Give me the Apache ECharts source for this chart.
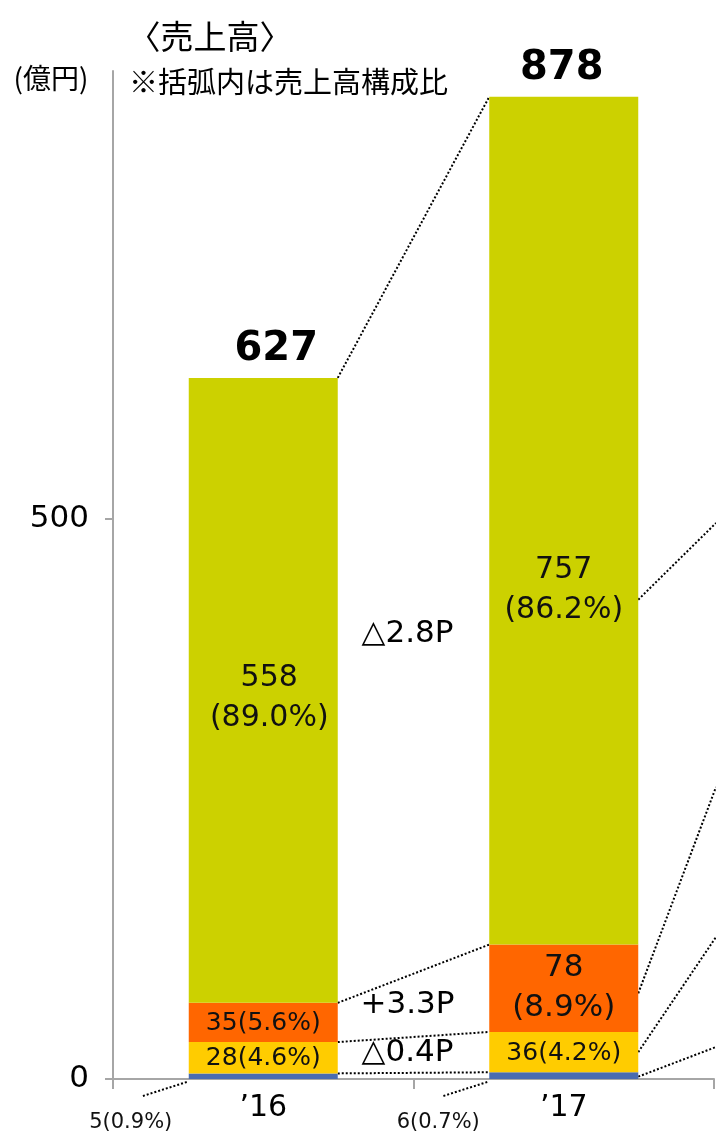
<!DOCTYPE html>
<html>
<head>
<meta charset="utf-8">
<script src="https://cdn.jsdelivr.net/npm/echarts@6/dist/echarts.min.js"></script>
<style>
  html, body { margin: 0; padding: 0; background: #fff; }
  #main { width: 716px; height: 1138px; }
</style>
</head>
<body>
<div id="main"></div>
<script>
const years = ['’16', '’17']
const other = [5, 6]
const otherShare = ['0.9%', '0.7%']
const yellow = [28, 36]
const yellowShare = ['4.6%', '4.2%']
const orange = [35, 78]
const orangeShare = ['5.6%', '8.9%']
const green = [558, 757]
const greenShare = ['89.0%', '86.2%']
const totals = [627, 878]
const deltas = ['△2.8P', '+3.3P', '△0.4P']
const yTicks = [0, 500]

const FONT = '"DejaVu Sans", "Noto Sans CJK JP", sans-serif'
const JFONT = '"Noto Sans CJK JP", sans-serif'
const BAR_W = 149
const dotted = { stroke: '#000', lineWidth: 2, lineDash: [2, 2] }

const chart = echarts.init(document.getElementById('main'))

function seg(name, data, color, labelFn) {
  return {
    name,
    type: 'bar',
    stack: 'sales',
    barWidth: BAR_W,
    itemStyle: { color },
    emphasis: { disabled: true },
    label: {
      show: !!labelFn,
      position: 'inside',
      color: '#111',
      fontFamily: FONT,
      formatter: p => labelFn ? labelFn(p.dataIndex) : ''
    },
    data: data.slice()
  }
}

const series = [
  seg('other', other, '#4A6CB0', null),
  seg('yellow', yellow, '#FFCC00', i => yellow[i] + '(' + yellowShare[i] + ')'),
  seg('orange', orange, '#FF6600', i => i === 1 ? orange[i] + '\n(' + orangeShare[i] + ')' : orange[i] + '(' + orangeShare[i] + ')'),
  seg('green', green, '#CCD100', i => green[i] + '\n(' + greenShare[i] + ')'),
  {
    name: 'total',
    type: 'bar',
    stack: 'sales',
    barWidth: BAR_W,
    itemStyle: { color: 'transparent' },
    label: {
      show: true,
      position: 'top',
      distance: 8,
      color: '#000',
      fontFamily: FONT,
      fontSize: 40,
      fontWeight: 'bold',
      formatter: p => String(totals[p.dataIndex])
    },
    data: totals.map((v, i) => ({ value: 0, label: { offset: [i === 0 ? 13 : -2, 0] } }))
  }
]

// per-segment label sizes / offsets
series[1].label.fontSize = 25
series[1].label.offset = [0, 1]
series[2].data = orange.map((v, i) => ({
  value: v,
  label: i === 1 ? { fontSize: 31, lineHeight: 40 } : { fontSize: 25, offset: [0, 1] }
}))
series[3].data = green.map((v, i) => ({
  value: v,
  label: { fontSize: 30, lineHeight: 40, offset: i === 1 ? [0, 70] : [6, 8] }
}))

const option = {
  animation: false,
  grid: { left: 113, right: 2, top: 71, bottom: 59 },
  xAxis: {
    type: 'category',
    data: years,
    axisLine: { lineStyle: { color: '#A6A6A6', width: 2 } },
    axisTick: { show: true, length: 10, lineStyle: { color: '#A6A6A6', width: 2 } },
    axisLabel: { color: '#000', fontFamily: FONT, fontSize: 30, margin: 14 }
  },
  yAxis: {
    type: 'value',
    min: 0,
    max: 900,
    interval: 500,
    splitLine: { show: false },
    axisLine: { show: true, lineStyle: { color: '#A6A6A6', width: 2 } },
    axisTick: { show: true, length: 8, customValues: yTicks, lineStyle: { color: '#A6A6A6', width: 2 } },
    axisLabel: { customValues: yTicks, color: '#000', fontFamily: FONT, fontSize: 31, margin: 24 }
  },
  series
}
chart.setOption(option)

// build connector lines and annotations from the data positions
const px = (i, v) => chart.convertToPixel({ gridIndex: 0 }, [i, v])
const stacks = [other, yellow, orange, green]
const cum = [0, 1].map(i => {
  let s = 0
  return stacks.map(arr => (s += arr[i]))
})
const g = []
const half = BAR_W / 2

// segment-top connectors between the two bars
for (let k = 0; k < stacks.length; k++) {
  const a = px(0, cum[0][k])
  const b = px(1, cum[1][k])
  g.push({ type: 'line', shape: { x1: a[0] + half, y1: a[1], x2: b[0] - half, y2: b[1] }, style: dotted, silent: true })
}

// leaders off to the right panel from the '17 bar
const rightEnds = [1047, 937, 787, 523]
const rightStartShift = [1, 0, 5, 79]
for (let k = 0; k < stacks.length; k++) {
  const lo = k === 0 ? 0 : cum[1][k - 1]
  const c = px(1, (lo + cum[1][k]) / 2)
  g.push({ type: 'line', shape: { x1: c[0] + half, y1: c[1] + rightStartShift[k], x2: 716, y2: rightEnds[k] }, style: dotted, silent: true })
}

// small "other" segment: leader + outside label
for (let i = 0; i < 2; i++) {
  const p = px(i, 0)
  const x0 = p[0] - half
  const ex = x0 - 46
  const ey = p[1] + 17
  g.push({ type: 'line', shape: { x1: x0 - 2, y1: p[1] + 3, x2: ex, y2: ey }, style: dotted, silent: true })
  g.push({
    type: 'text', x: ex - 12 + i * 7, y: ey + 27,
    style: { text: other[i] + '(' + otherShare[i] + ')', font: '21px ' + FONT, fill: '#111', align: 'center', verticalAlign: 'middle' }
  })
}

// composition change annotations between bars
const deltaAt = [397, 66, 23]
const mid0 = px(0, 0)[0]
const mid1 = px(1, 0)[0]
deltas.forEach((t, k) => {
  const y = px(0, deltaAt[k])[1]
  g.push({
    type: 'text', x: (mid0 + mid1) / 2 - 6, y,
    style: { text: t, font: '31px ' + FONT, fill: '#000', align: 'center', verticalAlign: 'middle' }
  })
})

// titles
g.push({ type: 'text', x: 210, y: 36, style: { text: '〈売上高〉', font: '33px ' + JFONT, fill: '#000', align: 'center', verticalAlign: 'middle' } })
g.push({ type: 'text', x: 129, y: 82, style: { text: '※括弧内は売上高構成比', font: '29px ' + JFONT, fill: '#000', align: 'left', verticalAlign: 'middle' } })
g.push({ type: 'text', x: 51, y: 78, style: { text: '(億円)', font: '28px ' + JFONT, fill: '#000', align: 'center', verticalAlign: 'middle' } })

chart.setOption({ graphic: g })
</script>
</body>
</html>
